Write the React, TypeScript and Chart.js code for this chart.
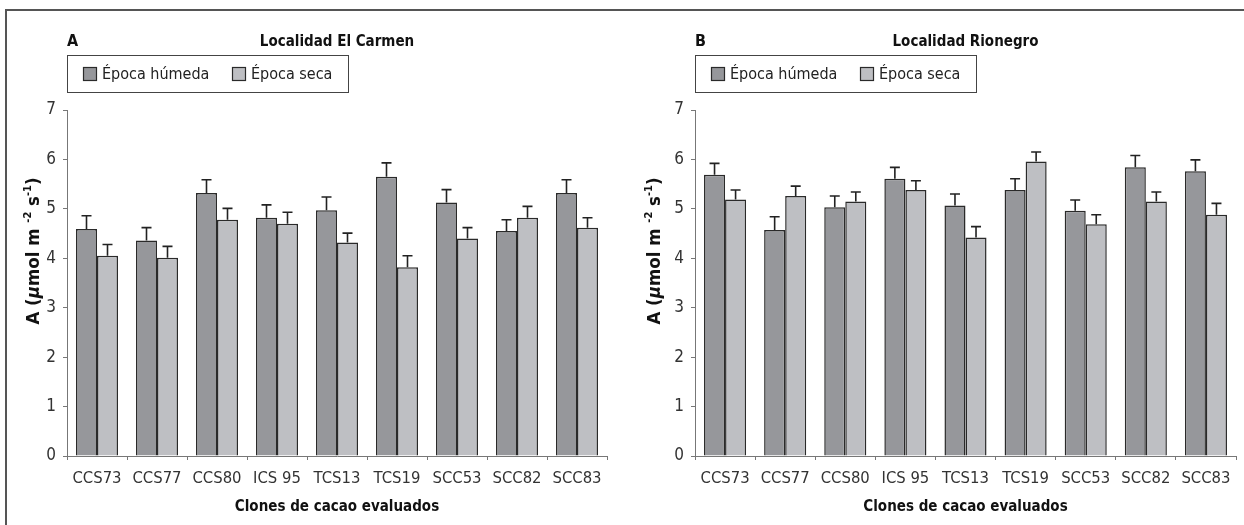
import React, { useEffect, useRef } from "react";
import { Chart, registerables } from "chart.js";

Chart.register(...registerables);

// ---------- data ----------
const clones = ["CCS73", "CCS77", "CCS80", "ICS 95", "TCS13", "TCS19", "SCC53", "SCC82", "SCC83"];
const seriesNames = ["Época húmeda", "Época seca"];

const carmenHumeda = [4.59, 4.36, 5.32, 4.82, 4.97, 5.65, 5.13, 4.55, 5.32];
const carmenHumedaErr = [0.27, 0.26, 0.27, 0.26, 0.27, 0.28, 0.26, 0.23, 0.27];
const carmenSeca = [4.05, 4.01, 4.78, 4.7, 4.32, 3.82, 4.4, 4.82, 4.62];
const carmenSecaErr = [0.23, 0.23, 0.23, 0.23, 0.19, 0.23, 0.22, 0.23, 0.2];

const rioHumeda = [5.69, 4.57, 5.03, 5.61, 5.07, 5.38, 4.96, 5.84, 5.76];
const rioHumedaErr = [0.23, 0.27, 0.23, 0.23, 0.23, 0.23, 0.22, 0.24, 0.23];
const rioSeca = [5.19, 5.26, 5.15, 5.38, 4.42, 5.96, 4.69, 5.15, 4.88];
const rioSecaErr = [0.19, 0.2, 0.19, 0.19, 0.22, 0.19, 0.19, 0.19, 0.23];

const yMin = 0;
const yMax = 7;
const yStep = 1;

// ---------- style ----------
const FONT = "'Liberation Sans Narrow', 'Arial Narrow', 'DejaVu Sans Condensed', sans-serif";
const DARK = "#96979b";
const LIGHT = "#bebfc3";
const EDGE = "#2a2a2a";
const AXIS = "#777";
const TEXT = "#333";

const errorBarPlugin = {
  id: "errorBars",
  afterDatasetsDraw(chart: any) {
    const ctx = chart.ctx;
    const y = chart.scales.y;
    chart.data.datasets.forEach((ds: any, di: number) => {
      const meta = chart.getDatasetMeta(di);
      meta.data.forEach((bar: any, i: number) => {
        const v = ds.data[i];
        const e = ds.errors[i];
        const top = y.getPixelForValue(v + e);
        const base = y.getPixelForValue(v);
        ctx.save();
        ctx.strokeStyle = "#222";
        ctx.lineWidth = 1.6;
        ctx.beginPath();
        ctx.moveTo(bar.x, base);
        ctx.lineTo(bar.x, top);
        ctx.moveTo(bar.x - 5, top);
        ctx.lineTo(bar.x + 5, top);
        ctx.stroke();
        ctx.restore();
      });
    });
  },
};

const decorPlugin = {
  id: "decor",
  afterDraw(chart: any, _args: any, opts: any) {
    const ctx = chart.ctx;
    const area = chart.chartArea;
    const cx = (area.left + area.right) / 2;
    ctx.save();
    ctx.fillStyle = "#111";
    ctx.textBaseline = "middle";
    // panel letter
    ctx.font = `bold 16px ${FONT}`;
    ctx.textAlign = "left";
    ctx.fillText(opts.letter, area.left, 42);
    // title
    ctx.font = `bold 15px ${FONT}`;
    ctx.textAlign = "center";
    ctx.fillText(opts.title, cx, 42);
    // x title
    ctx.fillText("Clones de cacao evaluados", cx, 507);

    // legend
    const lx = area.left;
    const ly = 55;
    ctx.strokeStyle = "#444";
    ctx.lineWidth = 1;
    ctx.strokeRect(lx + 0.5, ly + 0.5, 281, 37);
    const items = [
      { c: DARK, t: seriesNames[0], x: lx + 16 },
      { c: LIGHT, t: seriesNames[1], x: lx + 165 },
    ];
    ctx.font = `16px ${FONT}`;
    ctx.textAlign = "left";
    items.forEach((it) => {
      ctx.fillStyle = it.c;
      ctx.fillRect(it.x, 67, 14, 14);
      ctx.strokeStyle = EDGE;
      ctx.lineWidth = 1.2;
      ctx.strokeRect(it.x + 0.5, 67.5, 13, 13);
      ctx.fillStyle = "#222";
      ctx.fillText(it.t, it.x + 19, 75);
    });

    // y title, rotated, with superscripts
    const segs = [
      { t: "A (", f: `bold 18.5px ${FONT}`, dy: 0 },
      { t: "µ", f: `italic bold 18.5px ${FONT}`, dy: 0 },
      { t: "mol m ", f: `bold 18.5px ${FONT}`, dy: 0 },
      { t: "-2", f: `bold 11px ${FONT}`, dy: -6 },
      { t: " s", f: `bold 18.5px ${FONT}`, dy: 0 },
      { t: "-1", f: `bold 11px ${FONT}`, dy: -6 },
      { t: ")", f: `bold 18.5px ${FONT}`, dy: 0 },
    ];
    let total = 0;
    const widths = segs.map((s) => {
      ctx.font = s.f;
      const w = ctx.measureText(s.t).width;
      total += w;
      return w;
    });
    ctx.translate(opts.yTitleX, 251);
    ctx.rotate(-Math.PI / 2);
    ctx.fillStyle = "#111";
    ctx.textAlign = "left";
    let x = -total / 2;
    segs.forEach((s, i) => {
      ctx.font = s.f;
      ctx.fillText(s.t, x, s.dy);
      x += widths[i];
    });
    ctx.restore();
  },
};

function makeConfig(h: number[], hErr: number[], s: number[], sErr: number[], axisW: number, rightPad: number, letter: string, title: string, yTitleX: number) {
  return {
    type: "bar",
    data: {
      labels: clones,
      datasets: [
        { label: seriesNames[0], data: h, errors: hErr, backgroundColor: DARK, borderColor: EDGE, borderWidth: 1.5 },
        { label: seriesNames[1], data: s, errors: sErr, backgroundColor: LIGHT, borderColor: EDGE, borderWidth: 1.5 },
      ],
    },
    options: {
      responsive: false,
      animation: false,
      devicePixelRatio: 1,
      layout: { padding: { left: 0, right: rightPad, top: 110, bottom: 0 } },
      datasets: { bar: { categoryPercentage: 0.7, barPercentage: 1.0 } },
      plugins: {
        legend: { display: false },
        tooltip: { enabled: false },
        title: { display: false },
        decor: { letter, title, yTitleX },
      },
      scales: {
        x: {
          grid: { display: true, drawOnChartArea: false, drawTicks: true, tickLength: 4, color: AXIS, offset: true },
          border: { display: true, color: AXIS, width: 1 },
          ticks: { font: { family: FONT, size: 16.5 }, color: TEXT, padding: 9, maxRotation: 0, autoSkip: false },
          afterFit: (sc: any) => {
            sc.height = 69;
          },
        },
        y: {
          min: yMin,
          max: yMax,
          grid: { display: true, drawOnChartArea: false, drawTicks: true, tickLength: 4, color: AXIS },
          border: { display: true, color: AXIS, width: 1 },
          ticks: { stepSize: yStep, font: { family: FONT, size: 17 }, color: TEXT, padding: 7 },
          afterFit: (sc: any) => {
            sc.width = axisW;
          },
        },
      },
    },
    plugins: [errorBarPlugin, decorPlugin],
  };
}

function Panel(props: { cfg: any; left: number }) {
  const ref = useRef<HTMLCanvasElement>(null);
  useEffect(() => {
    const chart = new Chart(ref.current as HTMLCanvasElement, props.cfg);
    return () => chart.destroy();
  }, []);
  return <canvas ref={ref} width={622} height={525} style={{ position: "absolute", left: props.left, top: 0, width: 622, height: 525 }} />;
}

export default function App() {
  useEffect(() => {
    document.body.style.margin = "0";
  }, []);
  const left = makeConfig(carmenHumeda, carmenHumedaErr, carmenSeca, carmenSecaErr, 67, 15, "A", "Localidad El Carmen", 34);
  const right = makeConfig(rioHumeda, rioHumedaErr, rioSeca, rioSecaErr, 73, 8, "B", "Localidad Rionegro", 33);
  return (
    <div style={{ position: "relative", width: 1244, height: 525, background: "#fff", overflow: "hidden" }}>
      <Panel cfg={left} left={0} />
      <Panel cfg={right} left={622} />
      <div style={{ position: "absolute", left: 5, top: 9, width: 1239, height: 2, background: "#555" }} />
      <div style={{ position: "absolute", left: 5, top: 9, width: 2, height: 516, background: "#555" }} />
    </div>
  );
}
